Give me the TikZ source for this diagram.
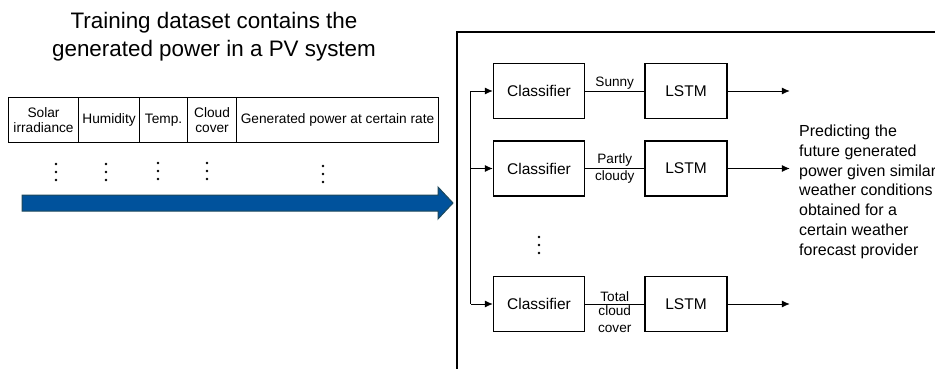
\documentclass[tikz,border=0pt]{standalone}
\usepackage{fontspec}
\setmainfont{Liberation Sans}
\usetikzlibrary{arrows.meta, positioning}

\definecolor{arrowblue}{RGB}{0,82,156}
\definecolor{arrowedge}{RGB}{28,72,92}

\begin{document}
\begin{tikzpicture}[
    x=1pt, y=-1pt,
    cell_style/.style={draw, line width=1.1pt, anchor=north west, minimum height=45pt,
        inner sep=0pt, align=center, font=\fontsize{13.7}{15.5}\selectfont},
    block_style/.style={draw, line width=1.5pt, minimum height=55pt, inner sep=0pt,
        font=\fontsize{15.5}{18}\selectfont},
    flow_style/.style={-{Latex[length=8pt,width=7pt]}, line width=0.8pt},
    tag_style/.style={font=\fontsize{13.6}{17}\selectfont, inner sep=1.5pt, align=center}
]

    \useasboundingbox (0,0) rectangle (935,368);
    \clip (0,0) rectangle (935,368);

    % Title
    \node[align=center, font=\fontsize{22.4}{28}\selectfont] (title) at (214,37)
        {Training dataset contains the\\generated power in a PV system};

    % Table header
    \node[cell_style, minimum width=70pt] (col_sun) at (8,97) {Solar\\irradiance};
    \node[cell_style, minimum width=61pt] (col_hum) at (78,97) {Humidity};
    \node[cell_style, minimum width=48pt] (col_tmp) at (139,97) {Temp.};
    \node[cell_style, minimum width=49pt] (col_cld) at (187,97) {Cloud\\cover};
    \node[cell_style, minimum width=202pt] (col_pow) at (236,97) {Generated power at certain rate};

    % Table rows continue
    \foreach \x/\y in {56/164, 106/164, 158/163, 207/163, 323/166}
        \foreach \k in {0,1,2}
            \fill (\x,\y+8*\k) circle (1.4);

    % Big blue arrow
    \draw[fill=arrowblue, draw=arrowedge, line width=1pt]
        (22,195) -- (438,195) -- (438,187) -- (453,203) -- (438,219) -- (438,211) -- (22,211) -- cycle;

    % Model box
    \draw[line width=2.5pt] (457,32) rectangle (1000,420);

    % Classifiers and LSTMs
    \node[block_style, minimum width=91pt] (cls_1) at (539,91) {Classifier};
    \node[block_style, minimum width=82pt, right=59pt of cls_1] (lstm_1) {LSTM};
    \node[block_style, minimum width=91pt, below=21pt of cls_1] (cls_2) {Classifier};
    \node[block_style, minimum width=82pt, right=59pt of cls_2] (lstm_2) {LSTM};
    \node[block_style, minimum width=91pt] (cls_3) at (539,304) {Classifier};
    \node[block_style, minimum width=82pt, right=59pt of cls_3] (lstm_3) {LSTM};

    % Weather labels
    \draw[line width=0.8pt] (cls_1) -- node[above, tag_style] {Sunny} (lstm_1);
    \draw[line width=0.8pt] (cls_2) -- node[above, tag_style] {Partly}
        node[below, tag_style] {cloudy} (lstm_2);
    \draw[line width=0.8pt] (cls_3) -- node[above, tag_style] {Total}
        node[below, tag_style] {cloud\\cover} (lstm_3);

    % Feed line
    \coordinate (bus_1) at ([xshift=-22pt]cls_1.west);
    \coordinate (bus_2) at ([xshift=-22pt]cls_2.west);
    \coordinate (bus_3) at ([xshift=-22pt]cls_3.west);
    \draw[line width=0.8pt] (bus_1) -- (bus_3);
    \draw[flow_style] (bus_1) -- (cls_1);
    \draw[flow_style] (bus_2) -- (cls_2);
    \draw[flow_style] (bus_3) -- (cls_3);

    % Outputs
    \coordinate (out_1) at ([xshift=62pt]lstm_1.east);
    \coordinate (out_2) at ([xshift=62pt]lstm_2.east);
    \coordinate (out_3) at ([xshift=62pt]lstm_3.east);
    \draw[flow_style] (lstm_1) -- (out_1);
    \draw[flow_style] (lstm_2) -- (out_2);
    \draw[flow_style] (lstm_3) -- (out_3);

    % More classes
    \foreach \k in {0,1,2}
        \fill (539,237+8*\k) circle (1.4);

    % Prediction text
    \node[anchor=north west, align=left, inner sep=0pt,
        font=\fontsize{16}{19.7}\selectfont] (predict) at (799,125)
        {Predicting the\\future generated\\power given similar\\weather conditions\\obtained for a\\certain weather\\forecast provider};

\end{tikzpicture}
\end{document}
